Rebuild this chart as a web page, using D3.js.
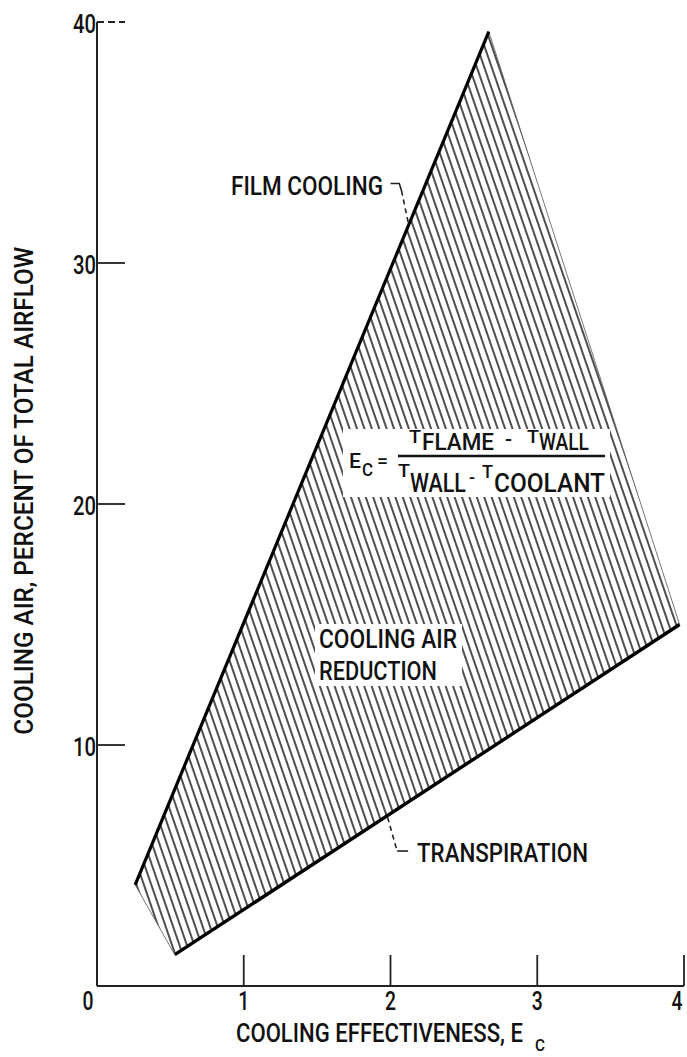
<!DOCTYPE html>
<html><head><meta charset="utf-8">
<script src="https://cdn.jsdelivr.net/npm/d3@7/dist/d3.min.js"></script>
<style>
html,body{margin:0;padding:0;background:#fff;}
svg text{font-family:Roboto,"Noto Sans",sans-serif;font-weight:500;fill:#111;}
</style></head>
<body>
<svg id="c" width="687" height="1057"></svg>
<script>
// ---- data ----
const xTicks = [0, 1, 2, 3, 4];
const yTicks = [10, 20, 30, 40];
const filmCooling = [[0.26, 4.2], [2.67, 39.6]];      // upper bound line
const transpiration = [[0.53, 1.3], [3.97, 15.0]];    // lower bound line
const xTitle = "COOLING EFFECTIVENESS, E";
const yTitle = "COOLING AIR,  PERCENT OF TOTAL AIRFLOW";

const svg = d3.select("#c");
const x = d3.scaleLinear().domain([0, 4]).range([97, 684]);
const y = d3.scaleLinear().domain([0, 40]).range([986, 22]);

function txt(px, py, s, size, len, anchor) {
  const t = svg.append("text").attr("x", px).attr("y", py).attr("font-size", size).text(s);
  if (len) t.attr("textLength", len).attr("lengthAdjust", "spacingAndGlyphs");
  if (anchor) t.attr("text-anchor", anchor);
  return t;
}
// one text element made of positioned pieces: [x, y, string, size, length]
function multi(pieces) {
  const t = svg.append("text");
  pieces.forEach(p => t.append("tspan").attr("x", p[0]).attr("y", p[1]).attr("font-size", p[3])
    .attr("textLength", p[4]).attr("lengthAdjust", "spacingAndGlyphs").text(p[2]));
  return t;
}

// hatch pattern
const defs = svg.append("defs");
const pat = defs.append("pattern").attr("id", "hatch").attr("patternUnits", "userSpaceOnUse")
  .attr("width", 7.0).attr("height", 20).attr("patternTransform", "rotate(-19)");
pat.append("line").attr("x1", 2).attr("x2", 2).attr("y1", -2).attr("y2", 22)
  .attr("stroke", "#222").attr("stroke-width", 1.6);

// region polygon
const region = [filmCooling[0], filmCooling[1], transpiration[1], transpiration[0]];
svg.append("path").datum(region)
  .attr("d", d3.line().x(d => x(d[0])).y(d => y(d[1])).curve(d3.curveLinearClosed))
  .attr("fill", "url(#hatch)").attr("stroke", "#555").attr("stroke-width", 0.8);

// white label boxes
svg.append("rect").attr("x", 343).attr("y", 429).attr("width", 267).attr("height", 68).attr("fill", "#fff");
svg.append("rect").attr("x", 315).attr("y", 624).attr("width", 147).attr("height", 62).attr("fill", "#fff");

// bounding lines
const ln = d3.line().x(d => x(d[0])).y(d => y(d[1]));
svg.append("path").datum(filmCooling).attr("d", ln).attr("stroke", "#000").attr("stroke-width", 3.2).attr("fill", "none");
svg.append("path").datum(transpiration).attr("d", ln).attr("stroke", "#000").attr("stroke-width", 3.4).attr("fill", "none");

// axes
svg.append("line").attr("x1", x(0)).attr("x2", x(0)).attr("y1", y(0)).attr("y2", y(40)).attr("stroke", "#222").attr("stroke-width", 2);
svg.append("line").attr("x1", x(0)).attr("x2", x(4)).attr("y1", y(0)).attr("y2", y(0)).attr("stroke", "#222").attr("stroke-width", 2);
svg.selectAll(".yt").data(yTicks).enter().append("line")
  .attr("x1", x(0)).attr("x2", x(0) + 28).attr("y1", d => y(d)).attr("y2", d => y(d))
  .attr("stroke", "#222").attr("stroke-width", 1.8)
  .attr("stroke-dasharray", d => d === 40 ? "7,4" : null);
svg.selectAll(".xt").data(xTicks.filter(d => d > 0)).enter().append("line")
  .attr("x1", d => x(d)).attr("x2", d => x(d)).attr("y1", y(0)).attr("y2", y(0) - 31)
  .attr("stroke", "#222").attr("stroke-width", 1.8);
yTicks.forEach(d => txt(x(0) - 1, y(d) + 11, String(d), 26, 23, "end"));
xTicks.forEach(d => txt(d === 0 ? x(0) - 9 : (d === 4 ? x(d) - 7 : x(d)), y(0) + 24, String(d), 26, 11, "middle"));

// axis titles
multi([[236, 1042, xTitle, 26, 287], [535, 1051, "C", 17, 10]]);
svg.append("text").attr("transform", `translate(33,${y(20.55)}) rotate(-90)`)
  .attr("text-anchor", "middle").attr("font-size", 26).attr("textLength", 488)
  .attr("lengthAdjust", "spacingAndGlyphs").text(yTitle);

// annotations
txt(231, 195, "FILM COOLING", 25, 152);
svg.append("path").datum([[2.0, 33.3], [2.06, 33.3], [2.075, 33.0]]).attr("d", ln)
  .attr("stroke", "#222").attr("stroke-width", 1.6).attr("fill", "none");
svg.append("path").datum([[2.075, 33.0], [2.12, 31.7]]).attr("d", ln)
  .attr("stroke", "#222").attr("stroke-width", 1.6).attr("fill", "none").attr("stroke-dasharray", "5,4");

txt(319, 648, "COOLING AIR", 25, 138);
txt(319, 680, "REDUCTION", 25, 118);

txt(417, 862, "TRANSPIRATION", 25, 171);
svg.append("path").datum([[1.98, 7.0], [2.045, 5.6]]).attr("d", ln)
  .attr("stroke", "#222").attr("stroke-width", 1.6).attr("fill", "none").attr("stroke-dasharray", "5,4");
svg.append("path").datum([[2.045, 5.6], [2.12, 5.6]]).attr("d", ln)
  .attr("stroke", "#222").attr("stroke-width", 1.6).attr("fill", "none");

// formula
multi([[349, 468, "E", 20, 12], [362, 476, "C", 18, 11], [377, 467, "=", 18, 11]]);
svg.append("line").attr("x1", 398).attr("x2", 605).attr("y1", 456).attr("y2", 456)
  .attr("stroke", "#111").attr("stroke-width", 2.4);
multi([[409, 443, "T", 18, 12], [422, 450, "FLAME", 23, 72], [505, 446, "-", 20, 7],
       [527, 443, "T", 18, 12], [539, 450, "WALL", 23, 50]]);
multi([[398, 477, "T", 18, 12], [410, 492, "WALL", 25, 56], [469, 484, "-", 18, 6],
       [482, 478, "T", 18, 11], [494, 492, "COOLANT", 25, 111]]);
</script>
</body></html>
